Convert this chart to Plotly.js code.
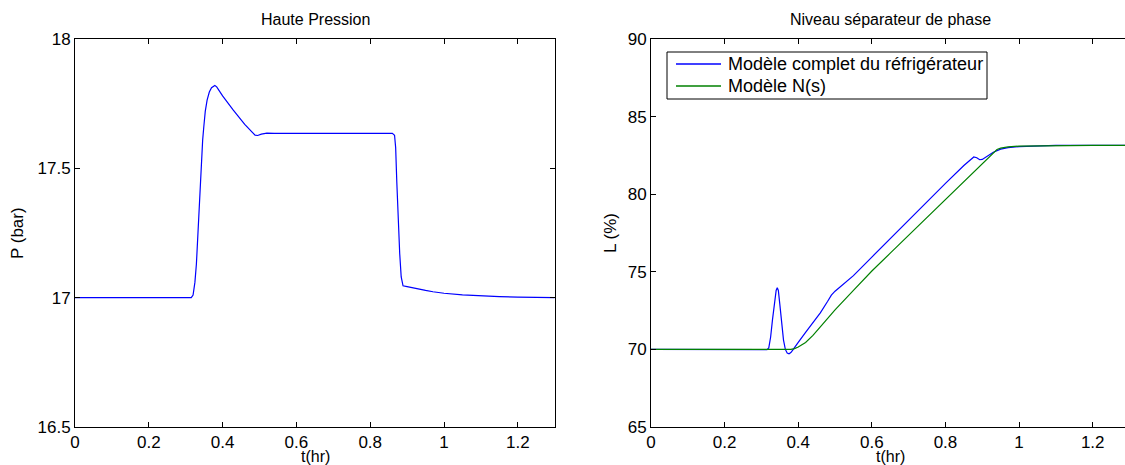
<!DOCTYPE html>
<html>
<head>
<meta charset="utf-8">
<script src="https://cdn.plot.ly/plotly-3.0.1.min.js"></script>
<style>
html, body { margin: 0; padding: 0; overflow: hidden; background: #fff; }
#chart { width: 1131px; height: 465px; }
</style>
</head>
<body>
<div id="chart"></div>
<script>
// Left panel: Haute Pression
const tP = [0, 0.1, 0.2, 0.3, 0.315, 0.32, 0.325, 0.329, 0.332, 0.335, 0.339, 0.343, 0.346, 0.349, 0.353, 0.358, 0.364, 0.37, 0.375, 0.379, 0.384, 0.39, 0.40, 0.429, 0.46, 0.48, 0.488, 0.495, 0.505, 0.52, 0.54, 0.6, 0.7, 0.8, 0.86, 0.866, 0.869, 0.872, 0.876, 0.88, 0.884, 0.887, 0.889, 0.9, 0.92, 0.95, 0.97, 1.0, 1.05, 1.1, 1.15, 1.2, 1.3];
const P  = [17.0, 17.0, 17.0, 17.0, 17.0, 17.01, 17.06, 17.13, 17.22, 17.31, 17.40, 17.53, 17.61, 17.66, 17.72, 17.764, 17.795, 17.812, 17.818, 17.82, 17.815, 17.80, 17.78, 17.725, 17.67, 17.64, 17.628, 17.627, 17.632, 17.636, 17.635, 17.635, 17.635, 17.635, 17.635, 17.628, 17.58, 17.45, 17.3, 17.17, 17.08, 17.05, 17.046, 17.043, 17.036, 17.028, 17.023, 17.017, 17.011, 17.007, 17.004, 17.002, 17.0];

// Right panel: Niveau séparateur de phase
const tL = [0, 0.1, 0.2, 0.3, 0.315, 0.32, 0.325, 0.33, 0.335, 0.34, 0.343, 0.346, 0.35, 0.355, 0.36, 0.365, 0.37, 0.375, 0.38, 0.385, 0.39, 0.40, 0.42, 0.44, 0.46, 0.48, 0.49, 0.5, 0.51, 0.52, 0.53, 0.55, 0.6, 0.65, 0.7, 0.75, 0.8, 0.85, 0.87, 0.877, 0.885, 0.893, 0.9, 0.91, 0.92, 0.93, 0.95, 0.97, 1.0, 1.05, 1.1, 1.2, 1.3];
const Lfull = [70, 70, 70, 69.98, 69.98, 70.1, 70.8, 71.9, 73.0, 73.8, 73.97, 73.8, 72.9, 71.6, 70.6, 70.0, 69.77, 69.72, 69.8, 69.95, 70.1, 70.45, 71.1, 71.7, 72.35, 73.1, 73.5, 73.75, 73.95, 74.1, 74.3, 74.75, 75.95, 77.15, 78.35, 79.55, 80.7, 81.85, 82.3, 82.4, 82.35, 82.22, 82.24, 82.38, 82.55, 82.7, 82.9, 83.0, 83.07, 83.12, 83.14, 83.15, 83.15];
const tN = [0, 0.1, 0.2, 0.3, 0.38, 0.39, 0.4, 0.42, 0.44, 0.46, 0.48, 0.5, 0.55, 0.6, 0.65, 0.7, 0.75, 0.8, 0.85, 0.9, 0.92, 0.93, 0.94, 0.95, 0.97, 1.0, 1.1, 1.2, 1.3];
const LN = [70, 70, 70, 70, 70, 70.05, 70.15, 70.45, 70.9, 71.45, 72.0, 72.55, 73.8, 75.05, 76.2, 77.35, 78.5, 79.65, 80.8, 81.95, 82.45, 82.7, 82.88, 82.97, 83.05, 83.1, 83.14, 83.15, 83.15];

const seriesNames = ['Modèle complet du réfrigérateur', 'Modèle N(s)'];
const seriesColors = ['#0000ff', '#008000'];

const xTicks = [0, 0.2, 0.4, 0.6, 0.8, 1, 1.2];
const xTickText = ['0', '0.2', '0.4', '0.6', '0.8', '1', '1.2'];
const pTicks = [16.5, 17, 17.5, 18];
const pTickText = ['16.5', '17', '17.5', '18'];
const lTicks = [65, 70, 75, 80, 85, 90];

const FONT = 'Liberation Sans, Arial, Helvetica, sans-serif';
const FS = 17;

const W = 1131, H = 465;
const px = v => v / W;
const py = v => (H - v) / H;

const axisBase = {
  showgrid: false, zeroline: false, showline: true, linecolor: '#000', linewidth: 1,
  mirror: 'ticks', ticks: 'inside', ticklen: 5, tickcolor: '#000', tickwidth: 1,
  tickfont: {family: FONT, size: FS, color: '#000'}
};

const traces = [
  {x: tP, y: P, type: 'scatter', mode: 'lines', line: {color: '#0000ff', width: 1.2}, xaxis: 'x', yaxis: 'y', showlegend: false},
  {x: tL, y: Lfull, type: 'scatter', mode: 'lines', name: seriesNames[0], line: {color: seriesColors[0], width: 1.2}, xaxis: 'x2', yaxis: 'y2', showlegend: false},
  {x: tN, y: LN, type: 'scatter', mode: 'lines', name: seriesNames[1], line: {color: seriesColors[1], width: 1.2}, xaxis: 'x2', yaxis: 'y2', showlegend: false}
];

// manual legend (box, line samples, labels) in paper coordinates
const legRows = [64, 86];
const shapes = [
  {type: 'rect', xref: 'paper', yref: 'paper', x0: px(667), x1: px(987), y0: py(99), y1: py(52), line: {color: '#000', width: 1}, fillcolor: '#fff', layer: 'above'}
];
const legendAnn = [];
seriesNames.forEach((n, i) => {
  shapes.push({type: 'line', xref: 'paper', yref: 'paper', x0: px(676), x1: px(721), y0: py(legRows[i]), y1: py(legRows[i]), line: {color: seriesColors[i], width: 1.5}, layer: 'above'});
  legendAnn.push({text: n, x: px(726), y: py(legRows[i]), xref: 'paper', yref: 'paper', showarrow: false, xanchor: 'left', yanchor: 'middle', font: {family: FONT, size: 18, color: '#000'}});
});

const yDom = [py(427), py(39)];
const layout = {
  width: W, height: H,
  margin: {l: 0, r: 0, t: 0, b: 0},
  paper_bgcolor: '#fff', plot_bgcolor: '#fff',
  font: {family: FONT, size: FS, color: '#000'},
  xaxis: Object.assign({}, axisBase, {domain: [px(75), px(554.7)], range: [0, 1.3], tickvals: xTicks, ticktext: xTickText, anchor: 'y'}),
  yaxis: Object.assign({}, axisBase, {domain: yDom, range: [16.5, 18], tickvals: pTicks, ticktext: pTickText, anchor: 'x'}),
  xaxis2: Object.assign({}, axisBase, {domain: [px(651), px(1129.5)], range: [0, 1.3], tickvals: xTicks, ticktext: xTickText, anchor: 'y2'}),
  yaxis2: Object.assign({}, axisBase, {domain: yDom, range: [65, 90], tickvals: lTicks, ticktext: lTicks.map(String), anchor: 'x2'}),
  showlegend: false,
  shapes: shapes,
  annotations: [
    {text: 'Haute Pression', x: px(315), y: py(19), xref: 'paper', yref: 'paper', showarrow: false, xanchor: 'center', yanchor: 'middle', font: {family: FONT, size: 16}},
    {text: 'Niveau séparateur de phase', x: px(890), y: py(19), xref: 'paper', yref: 'paper', showarrow: false, xanchor: 'center', yanchor: 'middle', font: {family: FONT, size: 16}},
    {text: 't(hr)', x: px(315), y: py(456), xref: 'paper', yref: 'paper', showarrow: false, xanchor: 'center', yanchor: 'middle', font: {family: FONT, size: 16}},
    {text: 't(hr)', x: px(890), y: py(456), xref: 'paper', yref: 'paper', showarrow: false, xanchor: 'center', yanchor: 'middle', font: {family: FONT, size: 16}},
    {text: 'P (bar)', x: px(17), y: py(233), xref: 'paper', yref: 'paper', showarrow: false, xanchor: 'center', yanchor: 'middle', textangle: -90, font: {family: FONT, size: FS}},
    {text: 'L (%)', x: px(610), y: py(233), xref: 'paper', yref: 'paper', showarrow: false, xanchor: 'center', yanchor: 'middle', textangle: -90, font: {family: FONT, size: FS}}
  ].concat(legendAnn)
};

Plotly.newPlot('chart', traces, layout, {displayModeBar: false, staticPlot: true});
</script>
</body>
</html>
